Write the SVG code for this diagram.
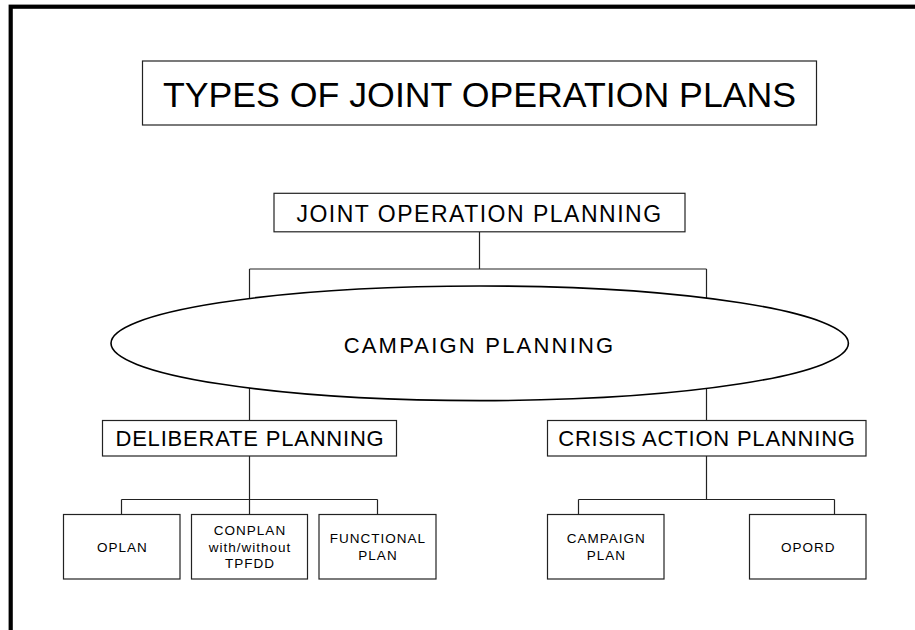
<svg xmlns="http://www.w3.org/2000/svg" width="915" height="630" viewBox="0 0 915 630">
<style>
.box{fill:#fff;stroke:#222;stroke-width:1.2}
.ln{fill:none;stroke:#222;stroke-width:1.2}
text{font-family:"Liberation Sans",Arial,sans-serif;fill:#000;text-anchor:middle}
.big{font-size:22px;letter-spacing:0.8px}
.sm{font-size:13.5px;letter-spacing:1px}
</style>
<rect width="915" height="630" fill="#fff"/>
<rect x="10.7" y="6.7" width="1000" height="1000" fill="none" stroke="#000" stroke-width="4.2"/>
<g id="connectors">
<path class="ln" d="M479.5 232V269M249.5 269H706.5M249.5 269V420.5M706.5 269V420.5"/>
<path class="ln" d="M249.5 456V514.5M121.5 499.5H377.5M121.5 499.5V514.5M377.5 499.5V514.5"/>
<path class="ln" d="M706.5 456V499.5M578.5 499.5H834.5M578.5 499.5V514.5M834.5 499.5V514.5"/>
</g>
<g id="title">
<rect class="box" x="142.5" y="61" width="674" height="64"/>
<text x="479.5" y="106.7" style="font-size:35.7px">TYPES OF JOINT OPERATION PLANS</text>
</g>
<g id="joint-operation-planning">
<rect class="box" x="274" y="193.3" width="411" height="38.5"/>
<text x="479.5" y="221.7" style="font-size:23px;letter-spacing:1.5px">JOINT OPERATION PLANNING</text>
</g>
<g id="campaign-planning">
<ellipse cx="479.7" cy="343.3" rx="368.7" ry="57.3" fill="#fff" stroke="#000" stroke-width="1.6"/>
<text x="479.5" y="352.7" style="font-size:22px;letter-spacing:2.2px">CAMPAIGN PLANNING</text>
</g>
<g id="deliberate-planning">
<rect class="box" x="102.5" y="420.5" width="294" height="35.5"/>
<text class="big" x="250" y="445.7">DELIBERATE PLANNING</text>
</g>
<g id="crisis-action-planning">
<rect class="box" x="547.5" y="420.5" width="318.5" height="35.5"/>
<text class="big" x="707" y="445.7">CRISIS ACTION PLANNING</text>
</g>
<g id="oplan">
<rect class="box" x="63.5" y="514.5" width="116.5" height="64.5"/>
<text class="sm" x="122.3" y="551.7">OPLAN</text>
</g>
<g id="conplan">
<rect class="box" x="191.5" y="514.5" width="116" height="64.5"/>
<text class="sm" x="250" y="535">CONPLAN</text>
<text class="sm" x="250" y="551.7">with/without</text>
<text class="sm" x="250" y="568.3">TPFDD</text>
</g>
<g id="functional-plan">
<rect class="box" x="319" y="514.5" width="117" height="64.5"/>
<text class="sm" x="378" y="543.3">FUNCTIONAL</text>
<text class="sm" x="378" y="560">PLAN</text>
</g>
<g id="campaign-plan">
<rect class="box" x="547.5" y="514.5" width="116.5" height="64.5"/>
<text class="sm" x="606.3" y="543.3">CAMPAIGN</text>
<text class="sm" x="606.3" y="560">PLAN</text>
</g>
<g id="opord">
<rect class="box" x="749.5" y="514.5" width="116.5" height="64.5"/>
<text class="sm" x="808.3" y="551.7">OPORD</text>
</g>
</svg>
